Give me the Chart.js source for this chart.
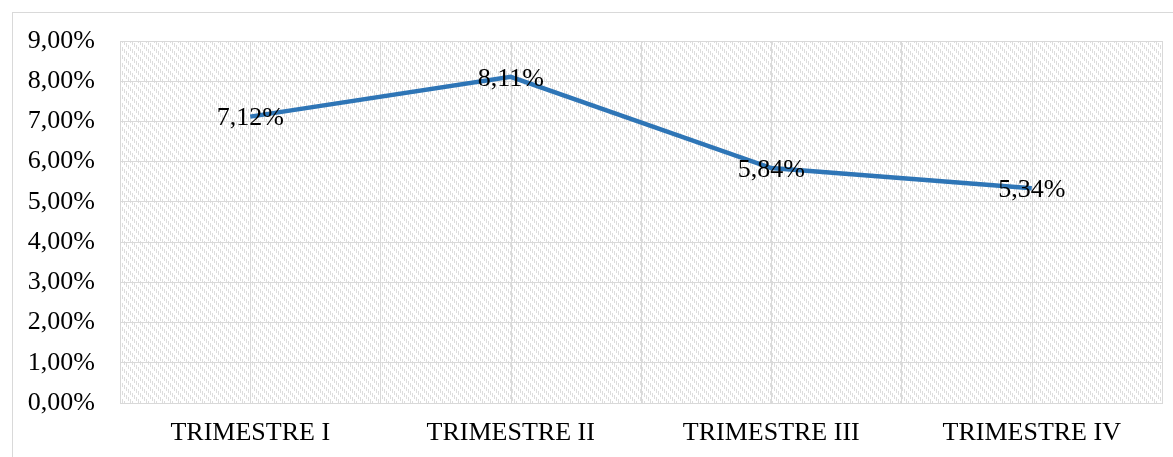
<!DOCTYPE html>
<html>
    <head>
        <meta charset="utf-8">
        <script src="https://cdn.jsdelivr.net/npm/chart.js"></script>
        <style>
            body {
                margin: 0;
                background-color: #ffffff;
            }
            #wrap {
                position: relative;
                width: 1173px;
                height: 457px;
            }
        </style>
    </head>
    <body>
        <div id="wrap">
            <canvas id="chart"></canvas>
        </div>

        <script>
            // data
            const categories = ['TRIMESTRE I', 'TRIMESTRE II', 'TRIMESTRE III', 'TRIMESTRE IV'];
            const rates = [7.12, 8.11, 5.84, 5.34];
            const yTicks = [0, 1, 2, 3, 4, 5, 6, 7, 8, 9];

            const gridColor = '#d9d9d9';
            const fontFamily = "'Liberation Serif', 'Times New Roman', serif";

            function pct(v) {
                return v.toFixed(2).replace('.', ',') + '%';
            }

            // diagonal hatch like the excel plot area fill
            function makeHatch(ctx) {
                const c = document.createElement('canvas');
                c.width = 8;
                c.height = 8;
                const g = c.getContext('2d');
                g.fillStyle = '#ffffff';
                g.fillRect(0, 0, 8, 8);
                g.fillStyle = '#dddddd';
                for (let y = 0; y < 8; y++) {
                    for (let x = 0; x < 8; x++) {
                        const d = ((x - y) % 8 + 8) % 8;
                        // dotted stripes running down to the right
                        if (d < 4 && x % 2 === 0) g.fillRect(x, y, 1, 1);
                    }
                }
                return ctx.createPattern(c, 'repeat');
            }

            const backdrop = {
                id: 'backdrop',
                beforeDraw(chart) {
                    const ctx = chart.ctx;
                    const a = chart.chartArea;
                    ctx.save();
                    // outer frame of the chart object
                    ctx.strokeStyle = gridColor;
                    ctx.lineWidth = 1;
                    ctx.strokeRect(12.5, 12.5, 1300, 600);
                    ctx.fillStyle = makeHatch(ctx);
                    ctx.fillRect(a.left, a.top, a.right - a.left, a.bottom - a.top);
                    ctx.restore();
                },
                beforeDatasetsDraw(chart) {
                    // extra vertical lines through each category centre
                    const ctx = chart.ctx;
                    const a = chart.chartArea;
                    const xs = chart.scales.x;
                    ctx.save();
                    ctx.strokeStyle = gridColor;
                    ctx.lineWidth = 1;
                    categories.forEach((c, i) => {
                        const px = Math.round(xs.getPixelForValue(i)) + 0.5;
                        ctx.beginPath();
                        ctx.moveTo(px, a.top);
                        ctx.lineTo(px, a.bottom);
                        ctx.stroke();
                    });
                    ctx.restore();
                }
            };

            const valueLabels = {
                id: 'valueLabels',
                afterDatasetsDraw(chart) {
                    const ctx = chart.ctx;
                    const meta = chart.getDatasetMeta(0);
                    ctx.save();
                    ctx.font = '26px ' + fontFamily;
                    ctx.fillStyle = '#000000';
                    ctx.textAlign = 'center';
                    ctx.textBaseline = 'middle';
                    meta.data.forEach((pt, i) => {
                        ctx.fillText(pct(rates[i]), pt.x, pt.y + 2);
                    });
                    ctx.restore();
                }
            };

            new Chart(document.getElementById('chart'), {
                type: 'line',
                data: {
                    labels: categories,
                    datasets: [{
                        data: rates,
                        borderColor: '#2e75b6',
                        borderWidth: 4.5,
                        pointRadius: 0,
                        tension: 0,
                        fill: false
                    }]
                },
                options: {
                    responsive: true,
                    maintainAspectRatio: false,
                    animation: false,
                    layout: { padding: { top: 41, right: 11, bottom: 0, left: 0 } },
                    plugins: {
                        legend: { display: false },
                        tooltip: { enabled: false }
                    },
                    scales: {
                        x: {
                            offset: true,
                            grid: { offset: true, color: gridColor, drawTicks: false },
                            border: { color: gridColor },
                            ticks: {
                                color: '#000000',
                                padding: 15,
                                maxRotation: 0,
                                font: { family: fontFamily, size: 26 }
                            },
                            afterFit(scale) { scale.height = 54; }
                        },
                        y: {
                            min: 0,
                            max: 9,
                            afterBuildTicks(scale) {
                                scale.ticks = yTicks.map(v => ({ value: v }));
                            },
                            grid: { color: gridColor, drawTicks: false },
                            border: { color: gridColor },
                            ticks: {
                                color: '#000000',
                                padding: 25,
                                font: { family: fontFamily, size: 26 },
                                callback: v => pct(v)
                            },
                            afterFit(scale) { scale.width = 120; }
                        }
                    }
                },
                plugins: [backdrop, valueLabels]
            });
        </script>
    </body>
</html>
